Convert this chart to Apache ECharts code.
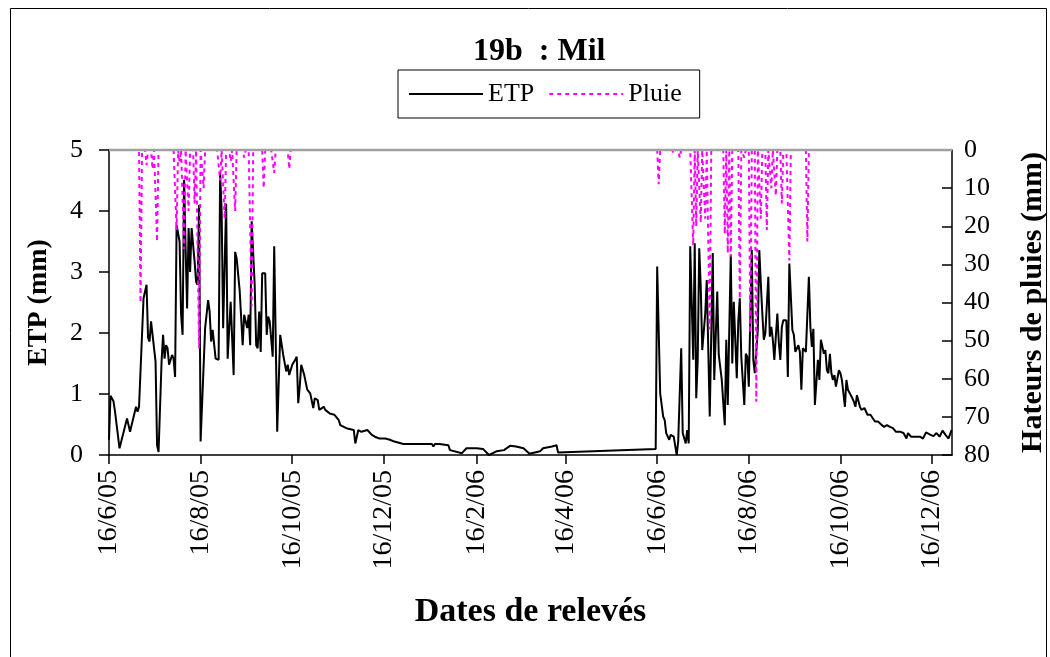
<!DOCTYPE html>
<html><head><meta charset="utf-8">
<script src="https://cdn.jsdelivr.net/npm/echarts@6/dist/echarts.min.js"></script>
<style>html,body{margin:0;padding:0;background:#fff}#c{width:1050px;height:657px}</style>
</head><body><div id="c"></div>
<script>
// ---- data ----
const etpDates = [
'2005-06-16','2005-06-17','2005-06-19','2005-06-20','2005-06-21','2005-06-23','2005-06-28','2005-06-30',
'2005-07-04','2005-07-05','2005-07-06','2005-07-09','2005-07-11','2005-07-12','2005-07-13','2005-07-14',
'2005-07-15','2005-07-17','2005-07-18','2005-07-19','2005-07-21','2005-07-22','2005-07-23','2005-07-24',
'2005-07-25','2005-07-26','2005-07-28','2005-07-29','2005-07-30','2005-07-31','2005-08-02','2005-08-03',
'2005-08-04','2005-08-05','2005-08-06','2005-08-07','2005-08-08','2005-08-09','2005-08-10','2005-08-11',
'2005-08-12','2005-08-13','2005-08-14','2005-08-15','2005-08-16','2005-08-19','2005-08-21','2005-08-22',
'2005-08-23','2005-08-24','2005-08-26','2005-08-28','2005-08-29','2005-08-30','2005-08-31','2005-09-01',
'2005-09-02','2005-09-03','2005-09-05','2005-09-07','2005-09-08','2005-09-09','2005-09-11','2005-09-12',
'2005-09-13','2005-09-14','2005-09-16','2005-09-17','2005-09-18','2005-09-19','2005-09-21','2005-09-22',
'2005-09-23','2005-09-24','2005-09-25','2005-09-26','2005-09-28','2005-09-29','2005-09-30','2005-10-01',
'2005-10-02','2005-10-03','2005-10-04','2005-10-06','2005-10-08','2005-10-10','2005-10-12','2005-10-13',
'2005-10-14','2005-10-16','2005-10-18','2005-10-19','2005-10-20','2005-10-21','2005-10-22','2005-10-24',
'2005-10-26','2005-10-28','2005-10-30','2005-10-31','2005-11-02','2005-11-03','2005-11-06','2005-11-07',
'2005-11-10','2005-11-13','2005-11-16','2005-11-17','2005-11-21','2005-11-26','2005-11-27','2005-11-29',
'2005-12-01','2005-12-05','2005-12-08','2005-12-10','2005-12-13','2005-12-17','2005-12-20','2005-12-23',
'2005-12-29','2006-01-05','2006-01-17','2006-01-18','2006-01-19','2006-01-22','2006-01-28','2006-01-29',
'2006-02-06','2006-02-09','2006-02-16','2006-02-20','2006-02-24','2006-03-01','2006-03-06','2006-03-10',
'2006-03-14','2006-03-19','2006-03-23','2006-03-30','2006-04-01','2006-04-07','2006-04-10','2006-04-11',
'2006-06-15','2006-06-16','2006-06-18','2006-06-20','2006-06-21','2006-06-22','2006-06-24','2006-06-25',
'2006-06-27','2006-06-28','2006-06-29','2006-06-30','2006-07-02','2006-07-03','2006-07-04','2006-07-05',
'2006-07-06','2006-07-07','2006-07-08','2006-07-10','2006-07-11','2006-07-12','2006-07-13','2006-07-14',
'2006-07-15','2006-07-16','2006-07-18','2006-07-19','2006-07-21','2006-07-23','2006-07-24','2006-07-26',
'2006-07-27','2006-07-29','2006-07-31','2006-08-01','2006-08-02','2006-08-04','2006-08-05','2006-08-06',
'2006-08-08','2006-08-09','2006-08-10','2006-08-11','2006-08-13','2006-08-14','2006-08-15','2006-08-16',
'2006-08-18','2006-08-19','2006-08-20','2006-08-22','2006-08-23','2006-08-24','2006-08-25','2006-08-26',
'2006-08-27','2006-08-29','2006-08-30','2006-08-31','2006-09-01','2006-09-02','2006-09-04','2006-09-05',
'2006-09-06','2006-09-07','2006-09-08','2006-09-10','2006-09-11','2006-09-12','2006-09-13','2006-09-14',
'2006-09-15','2006-09-16','2006-09-17','2006-09-18','2006-09-19','2006-09-20','2006-09-21','2006-09-22',
'2006-09-23','2006-09-25','2006-09-26','2006-09-27','2006-09-28','2006-09-29','2006-10-01','2006-10-02',
'2006-10-03','2006-10-05','2006-10-06','2006-10-07','2006-10-08','2006-10-09','2006-10-10','2006-10-11',
'2006-10-12','2006-10-13','2006-10-15','2006-10-16','2006-10-17','2006-10-18','2006-10-19','2006-10-20',
'2006-10-21','2006-10-22','2006-10-24','2006-10-25','2006-10-26','2006-10-27','2006-10-28','2006-10-29',
'2006-10-30','2006-11-01','2006-11-03','2006-11-05','2006-11-06','2006-11-08','2006-11-10','2006-11-11',
'2006-11-14','2006-11-16','2006-11-18','2006-11-20','2006-11-22','2006-11-25','2006-11-27','2006-11-29',
'2006-11-30','2006-12-02','2006-12-03','2006-12-06','2006-12-08','2006-12-10','2006-12-12','2006-12-15',
'2006-12-17','2006-12-19','2006-12-21','2006-12-23','2006-12-25','2006-12-26','2006-12-27','2006-12-29'
];
const etpValues = [
0.25,0.97,0.88,0.71,0.71,0.11,0.60,0.38,
0.79,0.71,0.79,2.57,2.79,1.92,1.86,2.19,
2.21,1.53,0.16,0.05,1.53,1.97,1.58,1.80,
1.75,1.48,1.64,1.58,1.28,3.77,3.50,2.30,
1.97,4.51,3.39,2.40,3.72,3.00,3.72,3.72,
3.17,2.84,2.79,4.10,0.22,2.08,2.54,2.35,
1.86,2.05,1.58,1.56,4.62,3.99,2.08,2.08,
4.12,1.58,2.51,1.31,3.33,3.22,2.70,2.68,
1.80,2.30,2.08,2.30,1.80,3.83,2.79,1.80,
1.75,2.35,1.69,2.98,2.98,1.97,2.27,2.19,
2.21,1.61,3.42,0.38,1.97,1.64,1.37,1.48,
1.31,1.48,1.56,1.61,0.85,1.12,1.48,1.31,
1.07,1.01,0.77,0.93,0.90,0.74,0.79,0.74,
0.68,0.66,0.57,0.49,0.44,0.41,0.19,0.41,
0.38,0.41,0.33,0.30,0.27,0.27,0.25,0.22,
0.18,0.18,0.18,0.14,0.18,0.18,0.16,0.08,
0.03,0.11,0.11,0.10,0.00,0.06,0.08,0.15,
0.14,0.11,0.02,0.06,0.11,0.14,0.16,0.04,
0.10,3.09,1.01,0.63,0.57,0.36,0.25,0.33,
0.30,0.33,0.00,0.22,1.75,0.36,0.33,0.19,
0.41,0.19,3.42,1.56,3.47,0.93,1.56,3.39,
2.76,1.72,2.32,2.87,0.63,3.31,1.23,2.68,
1.64,1.23,0.49,1.89,0.82,3.28,1.50,2.51,
1.26,2.19,2.57,1.61,0.82,1.66,1.61,1.12,
3.36,1.56,1.34,2.05,3.36,2.81,2.32,1.89,
1.99,2.92,1.94,2.10,1.89,1.56,2.32,1.84,
1.56,2.10,2.21,2.21,1.28,3.14,2.60,2.05,
1.97,1.69,1.72,1.80,1.69,1.07,1.75,1.72,
1.69,2.92,2.10,1.77,2.07,0.82,1.56,1.23,
1.89,1.66,1.72,1.39,1.34,1.66,1.34,1.23,
1.31,1.12,1.39,1.34,1.23,1.23,0.79,1.23,
1.07,1.07,0.93,0.87,0.79,0.98,0.96,0.79,
0.74,0.77,0.66,0.66,0.63,0.55,0.55,0.52,
0.46,0.49,0.46,0.44,0.38,0.38,0.36,0.27,
0.36,0.30,0.31,0.30,0.30,0.27,0.37,0.33,
0.31,0.36,0.30,0.40,0.33,0.36,0.27,0.41
];
const rainDates = [
'2005-07-07','2005-07-11','2005-07-15','2005-07-18','2005-07-31','2005-08-02','2005-08-05','2005-08-08',
'2005-08-12','2005-08-15','2005-08-18','2005-08-29','2005-09-01','2005-09-05','2005-09-08','2005-09-14',
'2005-09-19','2005-09-27','2005-10-04','2005-10-14',
'2006-06-17','2006-06-27','2006-07-01','2006-07-10','2006-07-12','2006-07-15','2006-07-18','2006-07-21',
'2006-07-31','2006-08-02','2006-08-04','2006-08-10','2006-08-13','2006-08-17','2006-08-21','2006-08-24',
'2006-08-28','2006-08-31','2006-09-03','2006-09-07','2006-09-12','2006-09-24'
];
const rainValues = [
40,4,5,24,21,3,26,16,
14,52,10,8,18,3,16,2,
41,10,6,5,
9,1,2,25,20,19,18,47,
22,27,28,39,2,48,66,18,
21,10,12,14,29,24
];
const tickDates = ['2005-06-16','2005-08-16','2005-10-16','2005-12-16','2006-02-16',
                   '2006-04-16','2006-06-16','2006-08-16','2006-10-16','2006-12-16'];
const axisStart = '2005-06-16';
const axisEnd = '2006-12-29';

// ---- helpers ----
const DAY = 86400000;
function ts(s){ const p = s.split('-'); return Date.UTC(+p[0], +p[1]-1, +p[2]); }
function fmt(v){ const d = new Date(v); return d.getUTCDate()+'/'+(d.getUTCMonth()+1)+'/'+String(d.getUTCFullYear()).slice(2); }

const etpData = etpDates.map((d,i)=>[ts(d), etpValues[i]]);
const rainMap = {};
rainDates.forEach((d,i)=>{ rainMap[ts(d)] = rainValues[i]; });
const rainData = [];
for (let t = ts(axisStart); t <= ts(axisEnd); t += DAY) rainData.push([t, rainMap[t] || 0]);
const tickTs = tickDates.map(ts);

const FONT = 'Liberation Serif';
const G = { left: 109, right: 98, top: 150, bottom: 202 };
const chart = echarts.init(document.getElementById('c'), null, {renderer:'canvas'});
chart.setOption({
  animation: false,
  backgroundColor: '#fff',
  textStyle: { fontFamily: FONT, color: '#000' },
  title: {
    text: '19b  : Mil', left: 468, top: 31,
    textStyle: { fontFamily: FONT, fontSize: 32, fontWeight: 'bold', color: '#000' }
  },
  legend: {
    left: 398, top: 70, padding: [11, 18, 11, 10], itemGap: 14,
    itemWidth: 74, itemHeight: 14,
    borderColor: '#000', borderWidth: 1,
    itemStyle: { opacity: 0 },
    textStyle: { fontFamily: FONT, fontSize: 26, color: '#000' },
    data: ['ETP', 'Pluie']
  },
  graphic: [{
    type: 'rect', shape: { x: 10.5, y: 8.5, width: 1036, height: 700 },
    style: { fill: 'none', stroke: '#000', lineWidth: 1 }, silent: true, z: 0
  }, {
    type: 'line', shape: { x1: G.left, y1: G.top, x2: 1050 - G.right, y2: G.top },
    style: { stroke: '#a0a0a0', lineWidth: 2.5 }, silent: true, z: 100
  }],
  grid: { left: G.left, right: G.right, top: G.top, bottom: G.bottom, containLabel: false, outerBoundsMode: 'none' },
  xAxis: [{
    type: 'value', min: ts(axisStart), max: ts(axisEnd) + DAY*0.3,
    axisLine: { show: true, lineStyle: { color: '#000', width: 1.5 } },
    axisTick: { show: true, customValues: tickTs, length: 9, inside: false, lineStyle: { color: '#000', width: 1.5 } },
    axisLabel: { customValues: tickTs, formatter: fmt, rotate: 90, fontFamily: FONT, fontSize: 28, color: '#000', margin: 15 },
    splitLine: { show: false },
    name: 'Dates de relevés', nameLocation: 'middle', nameGap: 140,
    nameTextStyle: { fontFamily: FONT, fontSize: 34, fontWeight: 'bold', color: '#000' }
  }],
  yAxis: [{
    type: 'value', min: 0, max: 5, interval: 1,
    axisLine: { show: true, lineStyle: { color: '#000', width: 1.5 } },
    axisTick: { show: true, length: 10, lineStyle: { color: '#000', width: 1.5 } },
    axisLabel: { fontFamily: FONT, fontSize: 26, color: '#000', margin: 26 },
    splitLine: { show: false },
    name: 'ETP (mm)', nameLocation: 'middle', nameGap: 56, nameRotate: 90,
    nameTextStyle: { fontFamily: FONT, fontSize: 28, fontWeight: 'bold', color: '#000' }
  }, {
    type: 'value', min: 0, max: 80, interval: 10, inverse: true, position: 'right',
    axisLine: { show: true, lineStyle: { color: '#000', width: 1.5 } },
    axisTick: { show: true, length: 10, inside: true, lineStyle: { color: '#000', width: 1.5 } },
    axisLabel: { fontFamily: FONT, fontSize: 26, color: '#000', margin: 12 },
    splitLine: { show: false },
    name: 'Hateurs de pluies (mm)', nameLocation: 'middle', nameGap: 66, nameRotate: 90,
    nameTextStyle: { fontFamily: FONT, fontSize: 30, fontWeight: 'bold', color: '#000' }
  }],
  series: [{
    name: 'ETP', type: 'line', xAxisIndex: 0, yAxisIndex: 0, data: etpData,
    symbol: 'none', showSymbol: false, lineStyle: { color: '#000', width: 2 }, itemStyle: { color: '#000' }, z: 2
  }, {
    name: 'Pluie', type: 'line', xAxisIndex: 0, yAxisIndex: 1, data: rainData,
    symbol: 'none', showSymbol: false, lineStyle: { color: '#ff00ff', width: 2, type: [4, 4] }, itemStyle: { color: '#ff00ff' }, z: 3
  }]
});
</script>
</body></html>
